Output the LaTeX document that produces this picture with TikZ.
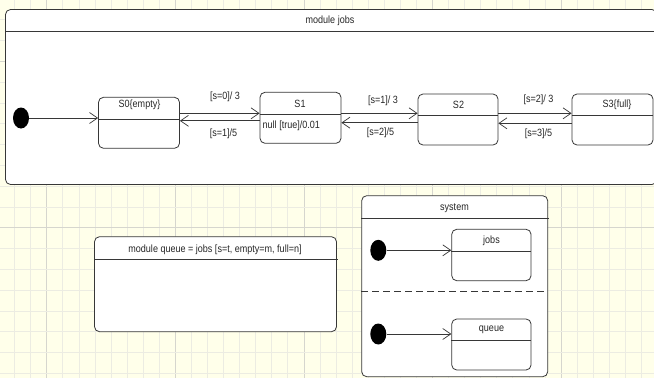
\documentclass[tikz,border=0pt]{standalone}
\usepackage{fontspec}
\setmainfont[FakeStretch=0.86]{Liberation Sans}
\usetikzlibrary{arrows.meta,shapes.geometric,calc}
\definecolor{bgc}{RGB}{255,255,234}
\definecolor{gridminor}{RGB}{236,236,226}
\definecolor{gridmajor}{RGB}{214,214,206}
\definecolor{edgec}{RGB}{55,55,55}
\begin{document}
\begin{tikzpicture}[x=1pt,y=-1pt,
  box/.style={draw=edgec,line width=0.8pt,rounded corners=5pt,fill=white},
  statebox/.style={draw=edgec,line width=0.8pt,rounded corners=5pt,fill=white,inner sep=0pt},
  lbl/.style={inner sep=0pt,font=\fontsize{10.5}{12}\selectfont,text=black!85},
  sep/.style={draw=edgec,line width=0.8pt},
  arr/.style={draw=edgec,line width=0.7pt,-{Straight Barb[length=8pt,width=11pt,line width=0.7pt]}},
  dot/.style={ellipse,fill=black,inner sep=0pt,minimum width=16pt,minimum height=21pt}]
\useasboundingbox (0,0) rectangle (654,378);
\fill[bgc] (0,0) rectangle (654,378);
% grid
\foreach \k in {-2,...,37} {
  \pgfmathsetmacro{\xx}{46.7+16.07*\k}
  \pgfmathtruncatemacro{\m}{mod(\k+80,8)}
  \ifnum\m=0 \draw[gridmajor,line width=0.6pt] (\xx,0) -- (\xx,378);
  \else \draw[gridminor,line width=0.6pt] (\xx,0) -- (\xx,378); \fi
}
\foreach \k in {-11,...,8} {
  \pgfmathsetmacro{\yy}{227.7+20.8*\k}
  \pgfmathtruncatemacro{\m}{mod(\k+80,8)}
  \ifnum\m=0 \draw[gridmajor,line width=0.6pt] (0,\yy) -- (654,\yy);
  \else \draw[gridminor,line width=0.6pt] (0,\yy) -- (654,\yy); \fi
}
% module jobs
\begin{scope}
\clip (0,0) rectangle (654,378);
\draw[box] (5.5,9.5) rectangle (657,184.5);
\draw[sep] (5.5,31.7) -- (657,31.7);
\end{scope}
\node[lbl] (tjobs) at (330,20.5) {module jobs};

\node[dot] (i0) at (21,118) {};
\node[statebox,minimum width=81pt,minimum height=51pt] (s0) at (139,122.8) {};
\node[statebox,minimum width=81pt,minimum height=51pt] (s1) at (300.5,117.8) {};
\node[statebox,minimum width=80pt,minimum height=51pt] (s2) at (458,119.5) {};
\node[statebox,minimum width=81pt,minimum height=51pt] (s3) at (612.5,119.5) {};
\draw[sep] (s0.west |- 0,119.3) -- (s0.east |- 0,119.3);
\draw[sep] (s1.west |- 0,114) -- (s1.east |- 0,114);
\draw[sep] (s2.west |- 0,115.3) -- (s2.east |- 0,115.3);
\draw[sep] (s3.west |- 0,115.3) -- (s3.east |- 0,115.3);
\node[lbl] (s0t) at (139.5,104.5) {S0\{empty\}};
\node[lbl] (s1t) at (300,104) {S1};
\node[lbl] (s2t) at (458.5,105) {S2};
\node[lbl] (s3t) at (617,105) {S3\{full\}};
\node[lbl,anchor=west] (s1a) at (262.5,125.5) {null [true]/0.01};

\draw[arr] (i0.east) -- (s0.west |- i0);
\draw[arr] (s0.east |- 0,113.3) -- (s1.west |- 0,113.3);
\draw[arr] (s1.west |- 0,120.8) -- (s0.east |- 0,120.8);
\draw[arr] (s1.east |- 0,113.3) -- (s2.west |- 0,113.3);
\draw[arr] (s2.west |- 0,122.7) -- (s1.east |- 0,122.7);
\draw[arr] (s2.east |- 0,113.3) -- (s3.west |- 0,113.3);
\draw[arr] (s3.west |- 0,123.3) -- (s2.east |- 0,123.3);
\node[lbl] (l1) at (225,97) {[s=0]/ 3};
\node[lbl] (l2) at (223.5,133.5) {[s=1]/5};
\node[lbl] (l3) at (383,101) {[s=1]/ 3};
\node[lbl] (l4) at (380.5,133) {[s=2]/5};
\node[lbl] (l5) at (538.5,99.5) {[s=2]/ 3};
\node[lbl] (l6) at (538.5,133.5) {[s=3]/5};

% module queue
\node[statebox,minimum width=242pt,minimum height=95pt] (mq) at (215.5,284.2) {};
\draw[sep] (mq.west |- 0,259.3) -- ($(mq.east |- 0,259.3)+(1,0)$);
\node[lbl] (mqt) at (215,249.5) {module queue = jobs [s=t, empty=m, full=n]};

% system
\node[statebox,minimum width=186pt,minimum height=181pt] (sys) at (454.7,286.2) {};
\draw[sep] (sys.west |- 0,218.3) -- ($(sys.east |- 0,218.3)+(1,0)$);
\node[lbl] (syst) at (454.5,208.5) {system};
\draw[edgec,line width=1pt,dash pattern=on 7pt off 4pt] (sys.west |- 0,291.7) -- (sys.east |- 0,291.7);

\node[dot] (i1) at (378.3,250.3) {};
\node[statebox,minimum width=79.3pt,minimum height=51.4pt] (jb) at (491.4,255) {};
\draw[sep] (jb.west |- 0,251.7) -- (jb.east |- 0,251.7);
\node[lbl] (jbt) at (491.5,240.5) {jobs};
\draw[arr] (i1.east) -- (jb.west |- i1);

\node[dot] (i2) at (378.3,334) {};
\node[statebox,minimum width=79.3pt,minimum height=51pt] (qu) at (491.4,344.5) {};
\draw[sep] (qu.west |- 0,340.7) -- (qu.east |- 0,340.7);
\node[lbl] (qut) at (491.5,330) {queue};
\draw[arr] (i2.east) -- (qu.west |- i2);
\end{tikzpicture}
\end{document}
